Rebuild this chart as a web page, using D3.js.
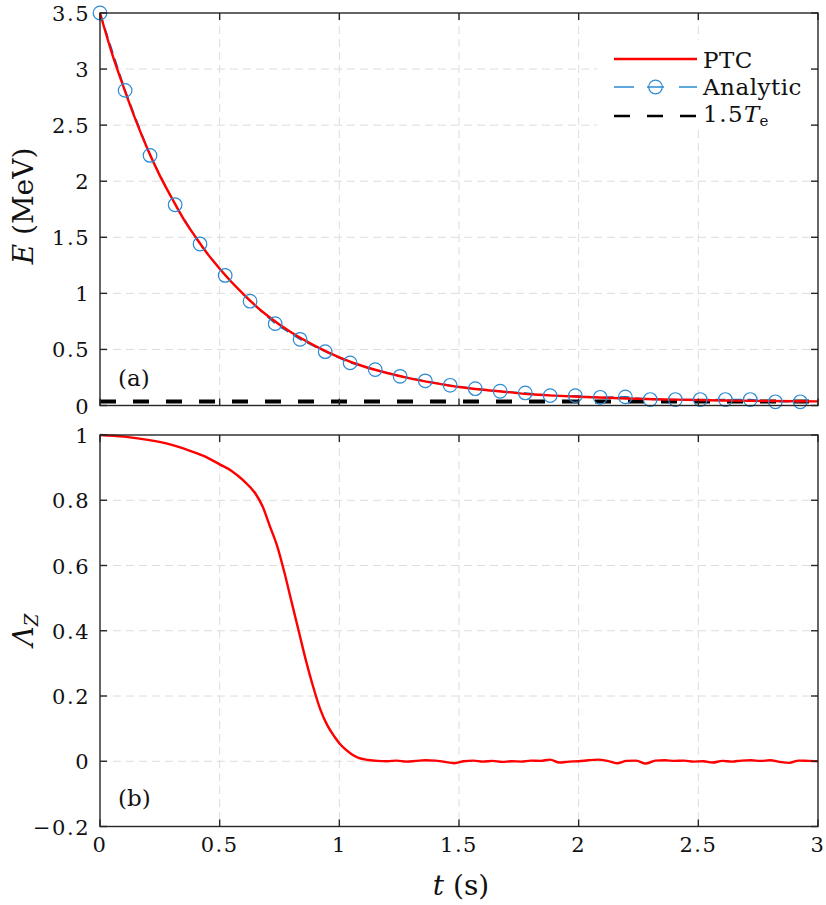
<!DOCTYPE html>
<html><head><meta charset="utf-8">
<script src="https://cdn.jsdelivr.net/npm/d3@7"></script>
<style>
body{margin:0;background:#fff;}
text{font-family:"DejaVu Serif",serif;fill:#111;}
</style></head>
<body><svg id="c" width="826" height="905"></svg>
<script>
// ---------- data ----------
const xTicks = [0, 0.5, 1, 1.5, 2, 2.5, 3];
const xTickLabels = ["0", "0.5", "1", "1.5", "2", "2.5", "3"];
const yTicksA = [0, 0.5, 1, 1.5, 2, 2.5, 3, 3.5];
const yTickLabelsA = ["0", "0.5", "1", "1.5", "2", "2.5", "3", "3.5"];
const yTicksB = [-0.2, 0, 0.2, 0.4, 0.6, 0.8, 1];
const yTickLabelsB = ["\u22120.2", "0", "0.2", "0.4", "0.6", "0.8", "1"];

// PTC energy (MeV) vs time (s)
const ptcT = [0, 0.05, 0.1, 0.15, 0.2, 0.25, 0.3, 0.35, 0.4, 0.45, 0.5, 0.6, 0.7, 0.8, 0.9, 1.0, 1.1, 1.2, 1.3, 1.4, 1.5, 1.6, 1.7, 1.8, 1.9, 2.0, 2.2, 2.4, 2.6, 2.8, 3.0];
const ptcE = [3.5, 3.14, 2.83, 2.54, 2.28, 2.05, 1.85, 1.66, 1.50, 1.35, 1.22, 0.99, 0.80, 0.65, 0.53, 0.43, 0.35, 0.29, 0.24, 0.20, 0.165, 0.14, 0.12, 0.10, 0.088, 0.078, 0.062, 0.052, 0.045, 0.040, 0.037];

// Analytic markers
const anaT = [0, 0.105, 0.209, 0.314, 0.418, 0.523, 0.627, 0.732, 0.836, 0.941, 1.045, 1.150, 1.254, 1.359, 1.463, 1.568, 1.672, 1.777, 1.881, 1.986, 2.090, 2.195, 2.299, 2.404, 2.508, 2.613, 2.717, 2.822, 2.926];
const anaE = [3.5, 2.81, 2.23, 1.79, 1.44, 1.16, 0.93, 0.73, 0.59, 0.48, 0.38, 0.32, 0.26, 0.22, 0.18, 0.15, 0.127, 0.112, 0.088, 0.088, 0.073, 0.077, 0.053, 0.053, 0.053, 0.053, 0.053, 0.033, 0.033];

// 1.5 Te level (MeV)
const teLevel = 0.035;

// Lambda_Z vs time
const lamT = [0, 0.1, 0.2, 0.3, 0.4, 0.45, 0.5, 0.55, 0.6, 0.65, 0.68, 0.71, 0.74, 0.77, 0.80, 0.83, 0.86, 0.89, 0.92, 0.95, 0.98, 1.0, 1.02, 1.05, 1.08, 1.12, 1.16,
  1.20, 1.24, 1.28, 1.32, 1.36, 1.40, 1.44, 1.48, 1.52, 1.56, 1.60, 1.64, 1.68, 1.72, 1.76, 1.80, 1.84, 1.88, 1.92, 1.96, 2.00, 2.04, 2.08, 2.12, 2.16, 2.20, 2.24, 2.28, 2.32, 2.36, 2.40, 2.44, 2.48, 2.52, 2.56, 2.60, 2.64, 2.68, 2.72, 2.76, 2.80, 2.84, 2.88, 2.92, 2.96, 3.00];
const lamV = [1.0, 0.995, 0.985, 0.97, 0.945, 0.93, 0.91, 0.89, 0.86, 0.82, 0.78, 0.72, 0.66, 0.58, 0.49, 0.40, 0.31, 0.23, 0.16, 0.11, 0.075, 0.055, 0.04, 0.022, 0.01, 0.004, 0.001,
  0.000, 0.002, -0.001, 0.001, 0.003, 0.002, -0.002, -0.006, 0.000, 0.002, -0.001, 0.001, -0.002, 0.000, -0.001, 0.002, 0.001, 0.005, -0.004, -0.001, 0.000, 0.003, 0.005, 0.001, -0.006, 0.001, 0.002, -0.007, 0.002, 0.003, 0.001, 0.002, -0.001, 0.000, -0.004, 0.001, -0.001, 0.002, 0.003, 0.001, 0.003, -0.002, -0.005, 0.002, 0.001, 0.000];

// ---------- drawing ----------
const svg = d3.select("#c");
const L = 100, R = 818;
const x = d3.scaleLinear().domain([0, 3]).range([L, R]);
const yA = d3.scaleLinear().domain([0, 3.5]).range([405.5, 13]);
const yB = d3.scaleLinear().domain([-0.2, 1]).range([826.5, 435]);
const axisCol = "#262626", gridCol = "#dcdcdc";
const tickLen = 7, fs = 21;
const red = "#ff0000", blue = "#2a8ad4";

function grid(y, yTicks, top, bottom) {
  const g = svg.append("g");
  g.selectAll("line.gx").data(xTicks.slice(1, -1)).join("line")
    .attr("x1", d => x(d)).attr("x2", d => x(d)).attr("y1", top).attr("y2", bottom)
    .attr("stroke", gridCol).attr("stroke-width", 1).attr("stroke-dasharray", "8,5");
  g.selectAll("line.gy").data(yTicks.filter(d => y(d) > top + 1 && y(d) < bottom - 1)).join("line")
    .attr("x1", L).attr("x2", R).attr("y1", d => y(d)).attr("y2", d => y(d))
    .attr("stroke", gridCol).attr("stroke-width", 1).attr("stroke-dasharray", "8,5");
}
function frame(y, yTicks, yLabels, top, bottom, showX) {
  const g = svg.append("g");
  g.append("rect").attr("x", L).attr("y", top).attr("width", R - L).attr("height", bottom - top)
    .attr("fill", "none").attr("stroke", axisCol).attr("stroke-width", 1.4);
  xTicks.forEach(d => {
    g.append("line").attr("x1", x(d)).attr("x2", x(d)).attr("y1", bottom).attr("y2", bottom - tickLen).attr("stroke", axisCol).attr("stroke-width", 1.4);
    g.append("line").attr("x1", x(d)).attr("x2", x(d)).attr("y1", top).attr("y2", top + tickLen).attr("stroke", axisCol).attr("stroke-width", 1.4);
  });
  yTicks.forEach((d, i) => {
    g.append("line").attr("x1", L).attr("x2", L + tickLen).attr("y1", y(d)).attr("y2", y(d)).attr("stroke", axisCol).attr("stroke-width", 1.4);
    g.append("line").attr("x1", R).attr("x2", R - tickLen).attr("y1", y(d)).attr("y2", y(d)).attr("stroke", axisCol).attr("stroke-width", 1.4);
    g.append("text").attr("x", 90).attr("y", y(d) + 8).attr("text-anchor", "end")
      .attr("font-size", fs).attr("letter-spacing", "1.5px").text(yLabels[i]);
  });
  if (showX) {
    xTicks.forEach((d, i) => {
      g.append("text").attr("x", x(d)).attr("y", 852).attr("text-anchor", "middle")
        .attr("font-size", fs).attr("letter-spacing", "1.5px").text(xTickLabels[i]);
    });
  }
}

// Panel (a)
grid(yA, yTicksA, 13, 405.5);
svg.append("line").attr("x1", x(0)).attr("x2", x(3)).attr("y1", yA(teLevel)).attr("y2", yA(teLevel))
  .attr("stroke", "#000").attr("stroke-width", 4).attr("stroke-dasharray", "16,17");
svg.append("path").datum(anaE).attr("d", d3.line().x((d, i) => x(anaT[i])).y(d => yA(d)))
  .attr("fill", "none").attr("stroke", "#0072BD").attr("stroke-width", 1.5).attr("stroke-dasharray", "10,6");
svg.append("path").datum(ptcE).attr("d", d3.line().curve(d3.curveMonotoneX).x((d, i) => x(ptcT[i])).y(d => yA(d)))
  .attr("fill", "none").attr("stroke", red).attr("stroke-width", 2.4);
svg.append("g").selectAll("circle").data(anaE).join("circle")
  .attr("cx", (d, i) => x(anaT[i])).attr("cy", d => yA(d)).attr("r", 6.8)
  .attr("fill", "none").attr("stroke", blue).attr("stroke-width", 1.2);
frame(yA, yTicksA, yTickLabelsA, 13, 405.5, false);

// Legend
const lg = svg.append("g");
lg.append("rect").attr("x", 597).attr("y", 40).attr("width", 213).attr("height", 87).attr("fill", "#fff");
lg.append("line").attr("x1", 614).attr("x2", 697).attr("y1", 59).attr("y2", 59).attr("stroke", red).attr("stroke-width", 2.4);
lg.append("line").attr("x1", 614).attr("x2", 634).attr("y1", 87).attr("y2", 87).attr("stroke", blue).attr("stroke-width", 1.5);
lg.append("line").attr("x1", 647).attr("x2", 664).attr("y1", 87).attr("y2", 87).attr("stroke", blue).attr("stroke-width", 1.5);
lg.append("line").attr("x1", 679).attr("x2", 697).attr("y1", 87).attr("y2", 87).attr("stroke", blue).attr("stroke-width", 1.5);
lg.append("circle").attr("cx", 655.5).attr("cy", 87).attr("r", 6.8).attr("fill", "none").attr("stroke", blue).attr("stroke-width", 1.2);
lg.append("line").attr("x1", 614).attr("x2", 697).attr("y1", 116).attr("y2", 116).attr("stroke", "#000").attr("stroke-width", 2.4).attr("stroke-dasharray", "16,17");
lg.append("text").attr("x", 703).attr("y", 67.5).attr("font-size", 23).attr("letter-spacing", "0.5px").text("PTC");
lg.append("text").attr("x", 703).attr("y", 94.5).attr("font-size", 23).attr("letter-spacing", "0.5px").text("Analytic");
const te = lg.append("text").attr("x", 703).attr("y", 122).attr("font-size", 23);
te.append("tspan").attr("letter-spacing", "1.5px").text("1.5");
te.append("tspan").attr("font-style", "italic").text("T");
te.append("tspan").attr("font-size", 15).attr("dy", 4).text("e");

svg.append("text").attr("x", 118).attr("y", 386).attr("font-size", 23).text("(a)");

// Panel (b)
grid(yB, yTicksB, 435, 826.5);
svg.append("path").datum(lamV).attr("d", d3.line().curve(d3.curveMonotoneX).x((d, i) => x(lamT[i])).y(d => yB(d)))
  .attr("fill", "none").attr("stroke", red).attr("stroke-width", 2.4);
frame(yB, yTicksB, yTickLabelsB, 435, 826.5, true);
svg.append("text").attr("x", 118).attr("y", 806).attr("font-size", 23).text("(b)");

// Axis labels
const yl = svg.append("text").attr("transform", "translate(33,206) rotate(-90)").attr("text-anchor", "middle").attr("font-size", 28);
yl.append("tspan").attr("font-style", "italic").text("E");
yl.append("tspan").text(" (MeV)");
const ll = svg.append("text").attr("transform", "translate(33,630) rotate(-90)").attr("text-anchor", "middle").attr("font-size", 28);
ll.append("tspan").attr("font-style", "italic").text("\u039B");
ll.append("tspan").attr("font-style", "italic").attr("font-size", 18).attr("dy", 5).text("Z");
const xl = svg.append("text").attr("x", 461).attr("y", 895).attr("text-anchor", "middle").attr("font-size", 28);
xl.append("tspan").attr("font-style", "italic").text("t");
xl.append("tspan").text(" (s)");
</script></body></html>
